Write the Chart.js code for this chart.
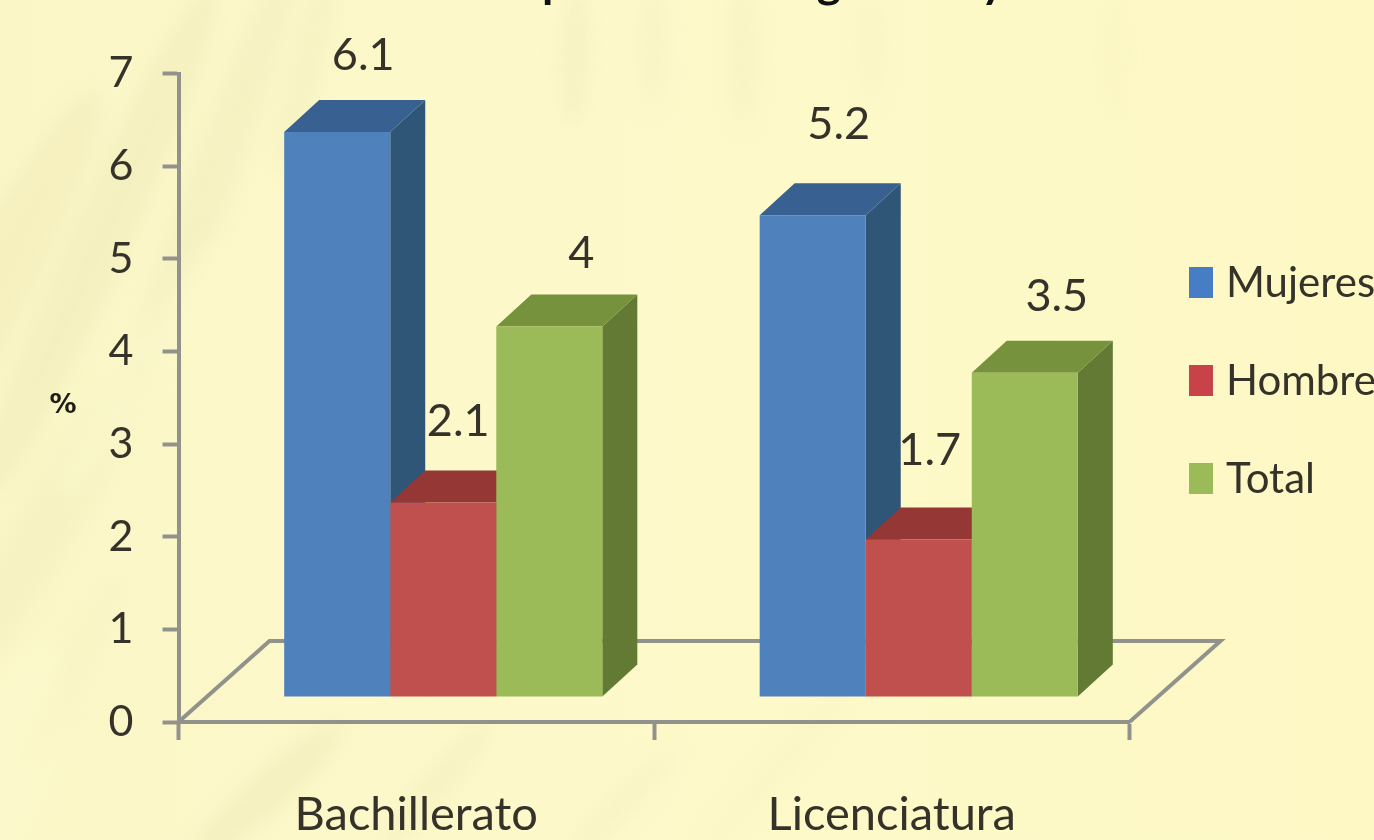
<!DOCTYPE html>
<html lang="es"><head><meta charset="utf-8">
<style>
html,body{margin:0;padding:0;width:1374px;height:840px;overflow:hidden;background:#fdf9c8}
#bg{position:absolute;left:0;top:0;width:1374px;height:840px;overflow:hidden;
background:linear-gradient(90deg,#faf6c6 0,#fcf8c9 24%,#fdf9c9 50%,#fdf9c7 80%,#fdf8c4 100%)}
#bg i{position:absolute;display:block;filter:blur(10px);border-radius:50%}
#wrap{position:absolute;left:0;top:0;width:1374px;height:840px}
</style>
<script src="https://cdn.jsdelivr.net/npm/chart.js@4"></script>
</head><body>
<div id="bg"></div>
<div id="wrap"><canvas id="c" width="1374" height="840"></canvas></div>
<script>
const categories = ['Bachillerato', 'Licenciatura'];
const mujeres = [6.1, 5.2];
const hombres = [2.1, 1.7];
const total = [4, 3.5];
const seriesNames = ['Mujeres', 'Hombres', 'Total'];
const yTicks = [0, 1, 2, 3, 4, 5, 6, 7];
const unitLabel = '%';
const titleFragments = ['p', 'g', 'y'];

// ---- style only below ----
const FONT = 'Lato, Carlito, "Open Sans", sans-serif';
const INK = '#35322a';
const AXIS = '#92928c';
const frontColors = ['#4f81bd', '#c0504d', '#9bbb59'];
const topColors = ['#386192', '#953735', '#76923c'];
const sideColors = ['#2f5676', '#7d2f2d', '#637a34'];
const legendColors = ['#467dc4', '#c8424a', '#9bbb59'];
const front = {dx: 27, dy: -25};
const depth = {dx: 35, dy: -32};
const floorDepth = {dx: 91, dy: -81};
const labelNudge = [[[26,-76],[26,-91]],[[15,-81],[11,-89]],[[32,-73],[32,-76]]];

// background streaks
const streaks = [
 [-60,60,70,520,28,'#efe9b4',.45],[70,-40,60,560,24,'#f0eab8',.5],[190,-70,50,480,20,'#f1ebba',.45],
 [20,330,60,380,30,'#f0eab6',.3],[290,-60,36,240,14,'#f3edbc',.45],[120,220,40,300,32,'#fffdd8',.35],
 [560,-20,30,150,2,'#f2ecbb',.5],[640,-20,26,130,0,'#f3edbd',.45],[730,-20,26,150,0,'#f2ecbb',.45],
 [860,-20,24,130,0,'#f4eebe',.4],[1100,-20,30,150,0,'#f5efbe',.3],[250,690,40,200,48,'#efe9b6',.5],
 [420,700,34,170,40,'#f2ecbb',.45],[600,720,30,180,44,'#f3edbd',.4],[760,660,30,220,42,'#f4eebe',.3],
 [-40,640,90,260,20,'#fffdd8',.3],[60,560,30,220,25,'#f7f1c0',.4]
];
const bg = document.getElementById('bg');
streaks.forEach(s => {
  const e = document.createElement('i');
  e.style.cssText = `left:${s[0]}px;top:${s[1]}px;width:${s[2]}px;height:${s[3]}px;transform:rotate(${s[4]}deg);background:${s[5]};opacity:${s[6]}`;
  bg.appendChild(e);
});

const text3d = {
  id: 'text3d',
  beforeDatasetsDraw(chart) {
    const {ctx, chartArea: a} = chart;
    // floor outline
    ctx.save();
    ctx.strokeStyle = AXIS; ctx.lineWidth = 4; ctx.lineJoin = 'miter';
    ctx.beginPath();
    ctx.moveTo(a.left, a.bottom);
    ctx.lineTo(a.left + floorDepth.dx, a.bottom + floorDepth.dy);
    ctx.lineTo(a.right + floorDepth.dx, a.bottom + floorDepth.dy);
    ctx.lineTo(a.right, a.bottom);
    ctx.stroke();
    ctx.restore();
    // top and side faces, back to front
    ctx.save();
    ctx.translate(front.dx, front.dy);
    chart.data.datasets.forEach((ds, i) => {
      chart.getDatasetMeta(i).data.forEach(b => {
        const {x, y, base, width} = b.getProps(['x','y','base','width'], true);
        const l = x - width/2, r = x + width/2;
        ctx.fillStyle = sideColors[i];
        ctx.beginPath();
        ctx.moveTo(r, y); ctx.lineTo(r + depth.dx, y + depth.dy);
        ctx.lineTo(r + depth.dx, base + depth.dy); ctx.lineTo(r, base);
        ctx.closePath(); ctx.fill();
        ctx.fillStyle = topColors[i];
        ctx.beginPath();
        ctx.moveTo(l, y); ctx.lineTo(l + depth.dx, y + depth.dy);
        ctx.lineTo(r + depth.dx, y + depth.dy); ctx.lineTo(r, y);
        ctx.closePath(); ctx.fill();
      });
    });
    ctx.restore();
    // the library's bars form the front faces, moved onto the front plane
    ctx.save();
    ctx.translate(front.dx, front.dy);
  },
  afterDatasetsDraw(chart) {
    const {ctx} = chart;
    ctx.restore();
    ctx.save();
    ctx.fillStyle = INK;
    ctx.font = '45px ' + FONT;
    ctx.textAlign = 'center'; ctx.textBaseline = 'middle';
    chart.data.datasets.forEach((ds, i) => {
      chart.getDatasetMeta(i).data.forEach((b, j) => {
        const n = labelNudge[i][j];
        ctx.fillText(String(ds.data[j]), b.x + front.dx + n[0], b.y + front.dy + n[1]);
      });
    });
    // legend
    ctx.textAlign = 'left';
    chart.data.datasets.forEach((ds, i) => {
      const cy = 282 + i * 98;
      ctx.fillStyle = legendColors[i];
      ctx.fillRect(1189, cy - 15, 24, 31);
      ctx.fillStyle = INK;
      ctx.font = '42px ' + FONT;
      ctx.fillText(ds.label, 1226, cy + 1);
    });
    // unit label
    ctx.fillStyle = '#1f1d18';
    ctx.font = 'bold 27px "DejaVu Sans", sans-serif';
    ctx.textAlign = 'center';
    ctx.fillText(unitLabel, 63, 406);
    // cropped title remnants at the very top
    ctx.fillStyle = '#111';
    ctx.font = 'bold 46px ' + FONT;
    ctx.textBaseline = 'alphabetic';
    [555, 829, 993].forEach((x, i) => ctx.fillText(titleFragments[i], x, -3));
    ctx.restore();
  }
};

new Chart(document.getElementById('c'), {
  type: 'bar',
  data: {
    labels: categories,
    datasets: [mujeres, hombres, total].map((d, i) => ({
      label: seriesNames[i], data: d, backgroundColor: frontColors[i],
      borderWidth: 0, categoryPercentage: 0.669, barPercentage: 1
    }))
  },
  options: {
    responsive: false, animation: false, devicePixelRatio: 1,
    layout: {padding: {left: 0, top: 73.5, right: 244.5, bottom: 0}},
    plugins: {legend: {display: false}, title: {display: false}, tooltip: {enabled: false}},
    scales: {
      x: {
        afterFit: s => { s.height = 118; },
        border: {color: AXIS, width: 4},
        grid: {drawOnChartArea: false, color: AXIS, tickColor: AXIS, tickWidth: 4, tickLength: 18, offset: true},
        ticks: {color: INK, font: {family: FONT, size: 47}, padding: 47, maxRotation: 0}
      },
      y: {
        min: 0, max: 7,
        afterFit: s => { s.width = 178.5; },
        afterBuildTicks: s => { s.ticks = yTicks.map(v => ({value: v})); },
        border: {color: AXIS, width: 4},
        grid: {drawOnChartArea: false, color: AXIS, tickColor: AXIS, tickWidth: 4, tickLength: 16},
        ticks: {color: INK, font: {family: FONT, size: 43}, padding: 29}
      }
    }
  },
  plugins: [text3d]
});
</script>
</body></html>
